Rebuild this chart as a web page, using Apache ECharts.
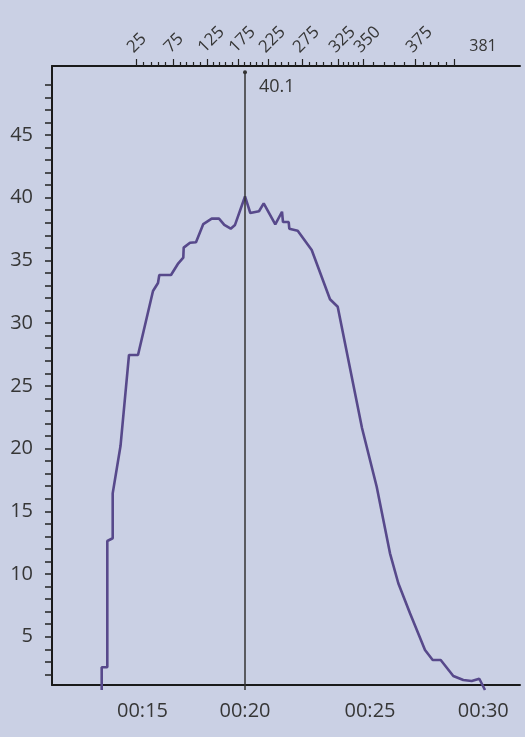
<!DOCTYPE html>
<html>
<head>
<meta charset="utf-8">
<script src="https://cdn.jsdelivr.net/npm/echarts@6/dist/echarts.min.js"></script>
<style>
html,body{margin:0;padding:0;background:#cad0e4;}
#c{width:525px;height:737px;}
</style>
</head>
<body>
<div id="c"></div>
<script>
// x: position along the course (arbitrary distance units), y: measured value
var distance = [49.7,49.7,55.3,55.3,60.7,60.7,68.5,77,86,101,106,107.3,119,126.3,131.3,131.7,138,144,151.3,159.7,167,172.3,178.7,183,193,198.3,207,211.7,223.3,230,231,236.7,237.3,245.7,259.7,278,285.7,310,324.7,338,346.3,358,373,380.7,388.7,401.3,411.3,419.7,427.3,433];
var values = [0.75,2.56,2.56,12.63,12.85,16.43,20.2,27.46,27.46,32.56,33.2,33.84,33.84,34.77,35.22,36.02,36.41,36.45,37.9,38.33,38.33,37.83,37.53,37.83,40.1,38.78,38.92,39.55,37.88,38.88,38.06,38.06,37.53,37.37,35.83,31.9,31.31,21.64,16.96,11.65,9.26,6.87,3.94,3.14,3.14,1.87,1.55,1.47,1.65,0.75];

// bottom axis: time labels and where they fall along the course
var timeLabels = ['00:15','00:20','00:25','00:30'];
var timePos = [90.5,193,318,431.3];

// top axis: counter labels and positions
var topLabels = ['25','75','125','175','225','275','325','350','375'];
var topPos = [84,121,155,186,216,250,286,311,363];
var topEndLabel = '381';
var topEndPos = 402;
var topEndLabelPos = 431;
var topMinorValues = [35,45,55,65,85,95,105,115,135,145,155,165,185,195,205,215,235,245,255,265,285,295,305,315,330,335,340,345,355,360,365,370,376.2,377.4,378.6,379.8];

// y axis ticks and labels
var yTicks = [];
for (var i = 2; i <= 49; i++) yTicks.push(i);
var yLabels = [5,10,15,20,25,30,35,40,45];

// cursor
var cursorPos = 193;
var cursorValue = 40.1;

var topAll = topLabels.map(Number).concat([381]);
var topAllPos = topPos.concat([topEndPos]);
function topValToPos(v){
  for (var k=0;k<topAll.length-1;k++){
    if (v>=topAll[k] && v<=topAll[k+1]){
      var t=(v-topAll[k])/(topAll[k+1]-topAll[k]);
      return topAllPos[k]+t*(topAllPos[k+1]-topAllPos[k]);
    }
  }
  return null;
}
var topMinorPos = topMinorValues.map(topValToPos);

var data = distance.map(function(d,i){return [d, values[i]];});
var FONT = 'Open Sans';
var TXT = '#363636';
var XMIN = 0, XMAX = 468, YMIN = 1.15, YMAX = 50.5;

var chart = echarts.init(document.getElementById('c'));
chart.setOption({
  backgroundColor:'#cad0e4',
  animation:false,
  grid:{left:52,right:5,top:66,bottom:52},
  xAxis:[
    {type:'value',min:XMIN,max:XMAX,position:'bottom',
     axisLine:{show:true,lineStyle:{color:'#1a1a1a',width:2}},
     axisTick:{show:true,customValues:[cursorPos],length:5,lineStyle:{color:'#333',width:1.5}},
     axisLabel:{show:true,customValues:timePos,margin:16,fontFamily:FONT,fontSize:20,color:TXT,
       formatter:function(v){var k=timePos.indexOf(v);return k>=0?timeLabels[k]:'';}},
     splitLine:{show:false}},
    {type:'value',min:XMIN,max:XMAX,position:'top',
     axisLine:{show:true,lineStyle:{color:'#1a1a1a',width:2}},
     axisTick:{show:true,customValues:topPos.concat([topEndPos]),length:7,lineStyle:{color:'#222',width:1.2}},
     axisLabel:{show:true,customValues:topPos,rotate:-45,align:'left',verticalAlign:'bottom',margin:10,fontFamily:FONT,fontSize:17,color:TXT,
       formatter:function(v){var k=topPos.indexOf(v);return k>=0?topLabels[k]:'';}},
     splitLine:{show:false}},
    {type:'value',min:XMIN,max:XMAX,position:'top',
     axisLine:{show:false},
     axisTick:{show:true,customValues:topMinorPos,length:4,lineStyle:{color:'#222',width:1.2}},
     axisLabel:{show:true,customValues:[topEndLabelPos],rotate:0,margin:12,fontFamily:FONT,fontSize:16,color:TXT,
       formatter:function(){return topEndLabel;}},
     splitLine:{show:false}}
  ],
  yAxis:{type:'value',min:YMIN,max:YMAX,
    axisLine:{show:true,lineStyle:{color:'#1a1a1a',width:2}},
    axisTick:{show:true,customValues:yTicks,length:7,lineStyle:{color:'#222',width:1.5}},
    axisLabel:{show:true,customValues:yLabels,margin:19,fontFamily:FONT,fontSize:20,color:TXT},
    splitLine:{show:false}},
  series:[{
    type:'line',xAxisIndex:0,data:data,showSymbol:false,symbol:'none',clip:false,
    lineStyle:{color:'#57498b',width:2.6},
    markLine:{silent:true,symbol:['none','circle'],symbolSize:4,
      lineStyle:{color:'#333',width:1.5,type:'solid'},
      label:{show:false},
      data:[[{coord:[cursorPos,YMIN]},{coord:[cursorPos,50.0]}]]},
    markPoint:{silent:true,symbol:'circle',symbolSize:0,
      label:{show:true,position:'right',distance:14,fontFamily:FONT,fontSize:18,color:TXT,
        formatter:function(){return String(cursorValue);}},
      data:[{coord:[cursorPos,48.8],value:cursorValue}]}
  }]
});
</script>
</body>
</html>
